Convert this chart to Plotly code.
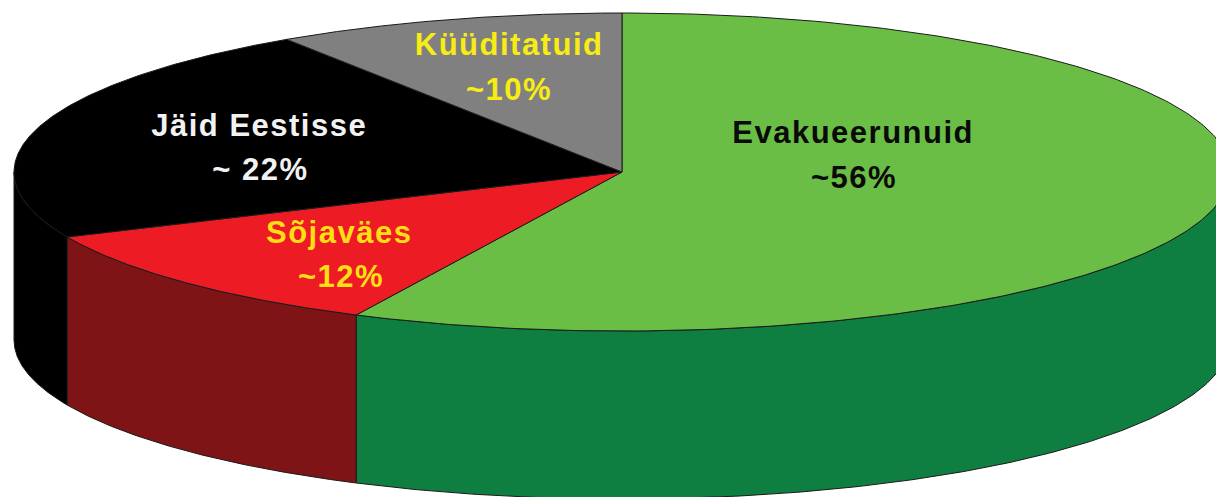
import numpy as np
import plotly.graph_objects as go

# Slice data (clockwise from 12 o'clock), shares as drawn in the picture
categories = ["Evakueerunuid", "Sõjaväes", "Jäid Eestisse", "Küüditatuid"]
shares = [57.2, 11.1, 22.4, 9.3]
percent_labels = ["~56%", "~12%", "~ 22%", "~10%"]

# Styles
top_colors = ["#6ABD45", "#ED1C24", "#000000", "#808080"]
side_colors = ["#0E7F41", "#7F1416", "#000000", "#606060"]
text_colors = ["#0A0A0A", "#FFDE17", "#F2F2F2", "#F7EC13"]
name_pos = [(853, 132), (339, 232), (259, 125), (509, 44)]
pct_pos = [(854, 177), (341, 276), (260, 169), (509, 89)]

# Projection of the disc on to the page (y grows downward on the page)
CX, CY, A, B = 622, 172, 608, 159
DEPTH = 168
EDGE = dict(color="#1a1a1a", width=1)


def ellipse(theta_deg, dy=0):
    t = np.radians(theta_deg)
    return CX + A * np.sin(t), CY + dy - B * np.cos(t)


edges = np.concatenate([[0], np.cumsum(shares)]) / sum(shares) * 360

fig = go.Figure()

# Side walls: only the front half of the rim (90..270 deg) is visible
for i, cat in enumerate(categories):
    lo, hi = max(edges[i], 90), min(edges[i + 1], 270)
    if hi <= lo:
        continue
    th = np.linspace(lo, hi, 200)
    xt, yt = ellipse(th)
    xb, yb = ellipse(th[::-1], DEPTH)
    fig.add_trace(go.Scatter(
        x=np.r_[xt, xb, xt[0]], y=np.r_[yt, yb, yt[0]],
        mode="lines", fill="toself", fillcolor=side_colors[i],
        line=EDGE, name=cat + " side", hoverinfo="skip", showlegend=False))

# Top faces
for i, cat in enumerate(categories):
    th = np.linspace(edges[i], edges[i + 1], 300)
    xt, yt = ellipse(th)
    fig.add_trace(go.Scatter(
        x=np.r_[CX, xt, CX], y=np.r_[CY, yt, CY],
        mode="lines", fill="toself", fillcolor=top_colors[i],
        line=EDGE, name=cat, hoverinfo="skip", showlegend=False))

# Labels
for i, cat in enumerate(categories):
    for txt, (px, py) in ((cat, name_pos[i]), (percent_labels[i], pct_pos[i])):
        fig.add_annotation(
            x=px, y=py, text="<b>" + txt + "</b>", showarrow=False,
            xanchor="center", yanchor="middle",
            font=dict(family="Liberation Sans", size=31, color=text_colors[i]))

fig.update_layout(
    width=1216, height=497, autosize=False,
    margin=dict(l=0, r=0, t=0, b=0),
    paper_bgcolor="white", plot_bgcolor="white", showlegend=False,
    xaxis=dict(range=[0, 1216], visible=False, fixedrange=True),
    yaxis=dict(range=[497, 0], visible=False, fixedrange=True),
)

fig.write_html(
    "out.html",
    config={"displayModeBar": False},
    post_script=(
        "document.body.style.margin='0';document.body.style.overflow='hidden';"
        "document.querySelectorAll('.annotation-text').forEach("
        "function(t){t.style.letterSpacing='1.5px';});"
    ),
)
